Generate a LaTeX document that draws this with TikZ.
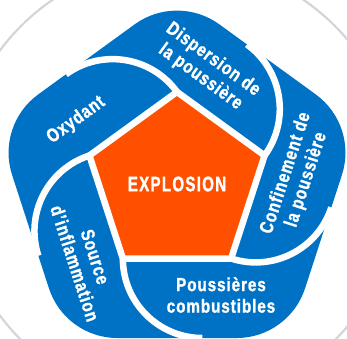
\documentclass[tikz,border=0pt]{standalone}
\usepackage{fontspec}
\setmainfont{Liberation Sans}
\newfontfamily\lblfont{Liberation Sans}[FakeStretch=0.8, LetterSpace=5, FakeBold=1.2]
\newfontfamily\expfont{Liberation Sans}[FakeStretch=0.72, LetterSpace=6, FakeBold=1.2]
\usetikzlibrary{calc}
\definecolor{bladeblue}{RGB}{0,114,198}
\definecolor{coreorange}{RGB}{255,80,0}
\definecolor{ringgray}{RGB}{212,213,217}
\begin{document}
\begin{tikzpicture}[x=1pt,y=1pt,
  sep/.style={white, line width=6.5pt},
  lbl/.style={text=white, font=\lblfont\bfseries\fontsize{19}{21.5}\selectfont, align=center, inner sep=0pt},
  core/.style={text=white, font=\expfont\bfseries\fontsize{21}{24}\selectfont, inner sep=0pt}]
\useasboundingbox (-177,-154) rectangle (170,184);
\clip (-177,-154) rectangle (170,184);
% background ring
\draw[ringgray, line width=2.2pt] (1,1) circle[radius=222pt];
% outer rounded pentagon
\fill[bladeblue]
  ($(90:101.4pt)+(54:72pt)$) arc[start angle=54,end angle=126,radius=72pt]
  -- ($(162:101.4pt)+(126:72pt)$) arc[start angle=126,end angle=198,radius=72pt]
  -- ($(234:101.4pt)+(198:72pt)$) arc[start angle=198,end angle=270,radius=72pt]
  -- ($(306:101.4pt)+(270:72pt)$) arc[start angle=270,end angle=342,radius=72pt]
  -- ($(18:101.4pt)+(342:72pt)$) arc[start angle=342,end angle=414,radius=72pt]
  -- cycle;
% core pentagon
\fill[coreorange] (90:92.1pt) -- (162:92.1pt) -- (234:92.1pt) -- (306:92.1pt) -- (18:92.1pt) -- cycle;
\draw[sep, line join=miter] (90:92.1pt) -- (162:92.1pt) -- (234:92.1pt) -- (306:92.1pt) -- (18:92.1pt) -- cycle;
% blade separators
\foreach \k in {0,...,4}
  \draw[sep, rotate=72*\k] (234:92.1pt) arc[start angle=180, end angle=270, radius=79.5pt];
% labels
\node[core] (explosion) at (0,0) {EXPLOSION};
\node[lbl] (poussieres) at (44,-111) {Poussières\\combustibles};
\node[lbl, rotate=72] (confinement) at (119.2,7.5) {Confinement de\\la poussière};
\node[lbl, rotate=-36] (dispersion) at (29.7,115.7) {Dispersion de\\la poussière};
\node[lbl, rotate=36] (oxydant) at (-100.9,63.9) {Oxydant};
\node[lbl, rotate=-72] (source) at (-92,-76.1) {Source\\d’inflammation};
\end{tikzpicture}
\end{document}
